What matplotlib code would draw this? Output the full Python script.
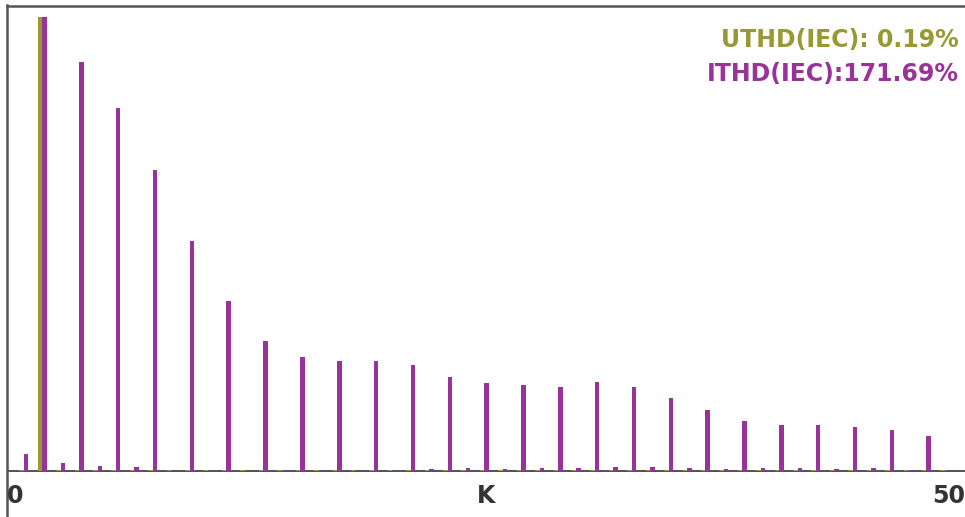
import matplotlib.pyplot as plt
import numpy as np

# harmonic order 0..50
orders = list(range(51))
# current harmonics, % of fundamental (purple)
i_harm = [3.9, 100.0, 1.9, 90.1, 1.25, 80.0, 1.0, 66.3, 0.1, 50.7,
          0.05, 37.5, 0.05, 28.7, 0.3, 25.2, 0.3, 24.3, 0.05, 24.3,
          0.05, 23.4, 0.6, 20.8, 0.8, 19.5, 0.6, 19.0, 0.8, 18.6,
          0.8, 19.7, 1.0, 18.6, 1.0, 16.2, 0.7, 13.5, 0.5, 11.1,
          0.7, 10.2, 0.7, 10.2, 0.5, 9.8, 0.7, 9.1, 0.3, 7.8, 0.3]
# voltage harmonics, % of fundamental (olive)
u_harm = [0.3] * 51
u_harm[1] = 100.0
tick_pos = [0, 25, 50]
tick_txt = ['0', 'K', '50']
uthd_txt = 'UTHD(IEC): 0.19%'
ithd_txt = 'ITHD(IEC):171.69%'

olive = '#999933'
purple = '#993399'
W, H = 965, 517

fig = plt.figure(figsize=(W / 100, H / 100), dpi=100)
ax = fig.add_axes([6.5 / W, 0, 1 - 6.5 / W, 1 - 5.5 / H])
ax.set_xlim(-0.942, 51.09)
ax.set_ylim(-10.01, 102.5)

ax.axhline(0, color='#333333', lw=1.2, zorder=1)
k = np.array(orders)
ax.bar(k - 0.122, u_harm, width=0.244, color=olive, zorder=2)
ax.bar(k + 0.122, i_harm, width=0.244, color=purple, zorder=2)

for s in ['right', 'bottom']:
    ax.spines[s].set_visible(False)
for s in ['left', 'top']:
    ax.spines[s].set_color('#555555')
    ax.spines[s].set_linewidth(1.8)
ax.set_xticks([])
ax.set_yticks([])

lab_x = [-0.45, 25.1, 50.2]
for x, t in zip(lab_x, tick_txt):
    ax.text(x, -5.4, t, ha='center', va='center', fontsize=17,
            fontweight='bold', color='#333333')

ax.text(0.994, 0.932, uthd_txt, transform=ax.transAxes, ha='right', va='center',
        fontsize=17, fontweight='bold', color=olive)
ax.text(0.994, 0.867, ithd_txt, transform=ax.transAxes, ha='right', va='center',
        fontsize=17, fontweight='bold', color=purple)

fig.savefig('out.png', dpi=100)
